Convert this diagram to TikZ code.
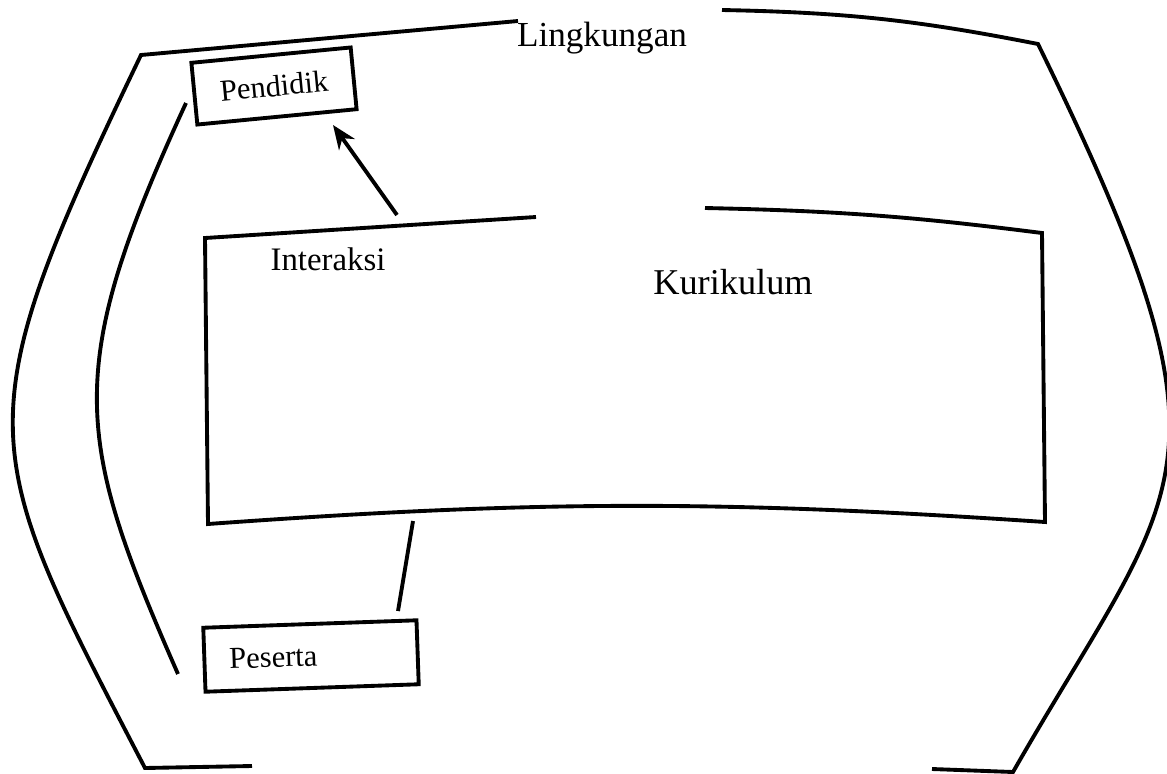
\documentclass[tikz,border=0pt]{standalone}
\usepackage{fontspec}
\setmainfont{Liberation Serif}
\usetikzlibrary{arrows.meta, positioning}

\begin{document}
\begin{tikzpicture}[x=0.03cm, y=-0.03cm, line width=3.3pt,
    box/.style={draw, inner sep=0pt},
    word/.style={font=\fontsize{#1}{#1}\selectfont}]
  \useasboundingbox (0,0) rectangle (1167,773);

  % lingkungan
  \draw (518,21) -- (141,55) .. controls (-38,427) and (-23,445) .. (145,768) -- (252,766);
  \draw (722,10) to[bend left=5] (1038,44) .. controls (1249,475) and (1180,480) .. (1013,772) -- (932,769);
  \node[word=30] (lingkungan) at (602,38) {Lingkungan};
  \draw (186,103) .. controls (63,370) and (74,437) .. (178,674);

  % kurikulum
  \draw (536,217) -- (205,238) -- (208,524) to[bend left=4] (1045,522) -- (1042,233) to[bend right=3] (705,208);
  \node[word=31] (kurikulum) at (733,282) {Kurikulum};
  \node[word=28] (interaksi) at (328,259) {Interaksi};

  \node[box, word=26, rotate=5.5, minimum width=4.8cm, minimum height=1.86cm] (pendidik) at (274,86) {Pendidik};
  \node[box, word=26, rotate=2, minimum height=1.92cm, text width=4.9cm, inner xsep=0.75cm, align=left] (peserta) at (311,656) {Peserta};

  \coordinate (top) at (397,215);
  \coordinate (tip) at (333,125);
  \coordinate (bottom) at (413,521);
  \coordinate (end) at (398,611);
  \draw[-{Stealth[length=0.72cm, width=0.58cm]}] (top) -- (tip);
  \draw (bottom) -- (end);
\end{tikzpicture}
\end{document}
